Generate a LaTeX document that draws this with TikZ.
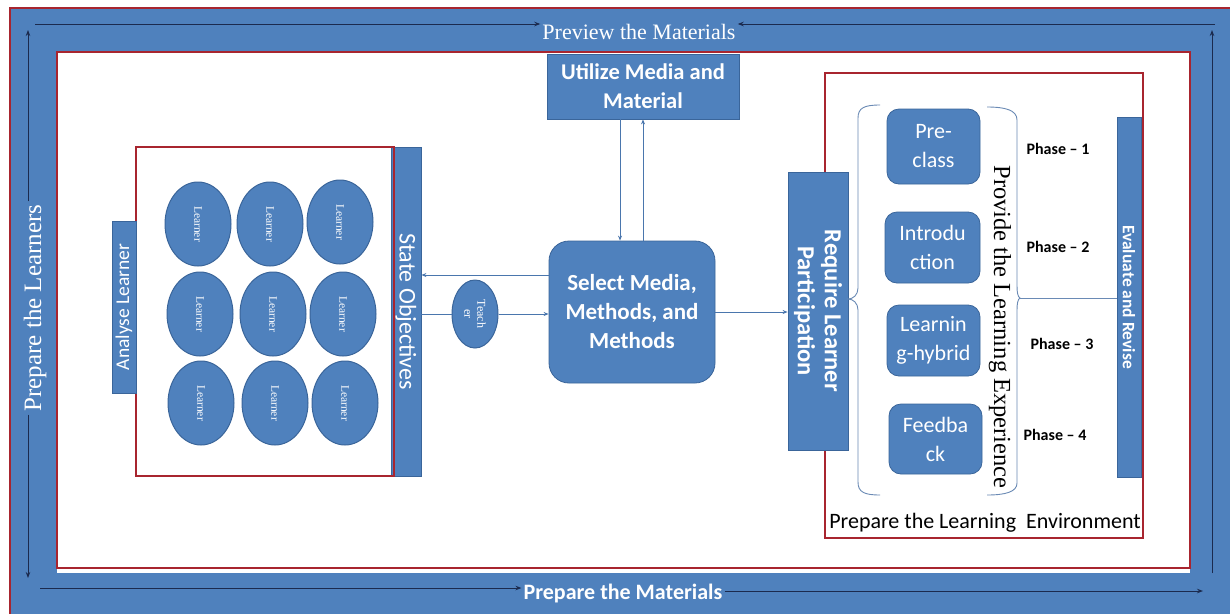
\documentclass[tikz,border=0pt]{standalone}
\usepackage{fontspec}
\setmainfont{Liberation Serif}
\setsansfont{Carlito}
\usetikzlibrary{arrows.meta,shapes.geometric}
\definecolor{ob}{HTML}{4F81BD}
\definecolor{obd}{HTML}{3A659A}
\definecolor{rd}{HTML}{A8252F}
\definecolor{nav}{HTML}{1B2A4E}
\definecolor{cn}{HTML}{4A76AD}
\definecolor{brc}{HTML}{6A8AB5}
\begin{document}
\begin{tikzpicture}[x=1pt,y=-1pt,
  bluebox/.style={fill=ob,draw=obd,line width=0.8pt,text=white,align=center,inner sep=0pt},
  outer/.style={draw=nav,line width=1pt,-{Stealth[length=6pt,width=4.5pt]}},
  conn/.style={draw=cn,line width=0.9pt},
  arr/.style={-{Stealth[length=5pt,width=4pt]}},
  learner/.style={ellipse,rotate=-90,fill=ob,draw=obd,line width=1pt,minimum width=84pt,minimum height=66pt,inner sep=0pt,text=white,font=\fontsize{11.5}{13}\selectfont},
  phasebox/.style={bluebox,rounded corners=12pt,minimum width=93pt,font=\sffamily\fontsize{22}{29}\selectfont},
  phaselbl/.style={font=\sffamily\bfseries\fontsize{16}{18}\selectfont,text=black,inner sep=1pt},
  bracestyle/.style={draw=brc,line width=0.9pt}
]
\useasboundingbox (0,0) rectangle (1230,614);
% outer frame
\fill[white] (0,0) rectangle (1230,614);
\fill[ob] (10,8) rectangle (1230,614);
\draw[rd,line width=1.3pt] (10,614) -- (10,8) -- (1230,8);
\fill[white] (57,52) rectangle (1190,573);
\draw[rd,line width=1.6pt] (57,52) rectangle (1190,568);

% outer labels and arrows
\node[text=white,font=\fontsize{22}{26}\selectfont,inner sep=2pt] (prev) at (639,32) {Preview the Materials};
\coordinate (tl) at (35,24);
\coordinate (tr) at (1215,24);
\draw[outer] (tl) -- (tl -| prev.west);
\draw[outer] (tr) -- (tr -| prev.east);

\node[text=white,rotate=90,font=\fontsize{25}{29}\selectfont,inner sep=3pt] (pl) at (35,308) {Prepare the Learners};
\coordinate (lt) at (28,30);
\coordinate (lb) at (28,578);
\draw[outer] (lt |- pl.east) -- (lt);
\draw[outer] (lb |- pl.west) -- (lb);

\coordinate (rbot) at (1212,573);
\coordinate (rtop) at (1212,30);
\draw[outer] (rbot) -- (rtop);

\node[text=white,font=\sffamily\bfseries\fontsize{22}{26}\selectfont,inner sep=2pt] (pm) at (623,593) {Prepare the Materials};
\coordinate (bl) at (40,588);
\coordinate (br) at (1203,591);
\draw[outer] (bl) -- (bl -| pm.west);
\draw[outer] (br -| pm.east) -- (br);

% left group
\node[bluebox,rotate=-90,minimum width=329pt,minimum height=30pt,font=\sffamily\fontsize{24}{28}\selectfont] (so) at (406,311.5) {State Objectives};
\draw[rd,line width=1.6pt] (136,147) rectangle (394,476);
\node[bluebox,rotate=90,minimum width=172pt,minimum height=24pt,font=\sffamily\fontsize{19.5}{22}\selectfont] (an) at (124,307) {Analyse Learner};
\foreach \x/\y [count=\i] in {198/224,270/224,340/222,200/314,273/314,343/314,201/403,275/403,345/403}
  \node[learner] (l\i) at (\x,\y) {Learner};

\node[ellipse,rotate=-90,fill=ob,draw=obd,line width=1pt,minimum width=68pt,minimum height=46pt,inner sep=0pt,text=white,align=center,font=\fontsize{12}{13}\selectfont] (teach) at (475,314) {Teach\\er};

% centre
\node[bluebox,minimum width=192pt,minimum height=65pt,font=\sffamily\bfseries\fontsize{22.5}{29}\selectfont] (util) at (643,86.5) {Utilize Media and\\Material};
\node[bluebox,rounded corners=20pt,minimum width=166pt,minimum height=142pt,font=\sffamily\bfseries\fontsize{23}{29}\selectfont] (sel) at (632,312) {Select Media,\\Methods, and\\Methods};

% right group
\draw[rd,line width=1.6pt] (825,73) rectangle (1143,538);
\node[bluebox,rotate=-90,minimum width=278pt,minimum height=60pt,font=\sffamily\bfseries\fontsize{24.5}{27}\selectfont] (req) at (818,311) {Require Learner\\Participation};
\node[phasebox,minimum height=75pt] (pre) at (933.5,146.5) {Pre-\\class};
\node[phasebox,minimum width=95pt,minimum height=71pt] (intro) at (932.5,247.5) {Introdu\\ction};
\node[phasebox,minimum height=71pt] (learn) at (933.5,340.5) {Learnin\\g-hybrid};
\node[phasebox,minimum height=70pt] (feed) at (935.5,439) {Feedba\\ck};
\node[rotate=-90,font=\fontsize{24.5}{28}\selectfont,inner sep=0pt] (pex) at (1000,327) {Provide the Learning Experience};
\node[bluebox,rotate=-90,minimum width=360pt,minimum height=24pt,font=\sffamily\bfseries\fontsize{17.5}{19}\selectfont] (ev) at (1129,297) {Evaluate and Revise};
\node[phaselbl] (ph1) at (1058,149) {Phase -- 1};
\node[phaselbl] (ph2) at (1058,247) {Phase -- 2};
\node[phaselbl] (ph3) at (1062,344) {Phase -- 3};
\node[phaselbl] (ph4) at (1055,435) {Phase -- 4};
\node[font=\sffamily\fontsize{22}{26}\selectfont,inner sep=0pt] (env) at (985,523) {Prepare the Learning\ \ Environment};

% braces
\draw[bracestyle] (880,105) .. controls (864,105) and (858,108) .. (858,118) -- (858,288)
  .. controls (858,295) and (853,299) .. (848,299) .. controls (853,299) and (858,303) .. (858,310)
  -- (858,482) .. controls (858,492) and (864,495) .. (880,495);
\draw[bracestyle] (987,107) .. controls (1005,107) and (1017,110) .. (1017,120) -- (1017,286)
  .. controls (1017,293) and (1018,297) .. (1020,298) coordinate (rbt)
  .. controls (1018,299) and (1017,303) .. (1017,310) -- (1017,483)
  .. controls (1017,492) and (1005,495) .. (987,495);
\draw[bracestyle] (rbt) -- (ev.south |- rbt);

% connectors
\draw[conn,arr] ([yshift=37pt]sel.west) coordinate (s1) -- (so.north |- s1);
\draw[conn] (teach.south -| so.north) -- (teach.south);
\draw[conn,arr] (teach.north) -- (teach.north -| sel.west);
\draw[conn,arr] (sel.east) -- (sel.east -| req.south);
\draw[conn,arr] ([xshift=-23pt]util.south) coordinate (u1) -- (u1 |- sel.north);
\draw[conn,arr] (util.south |- sel.north) -- (util.south);
\end{tikzpicture}
\end{document}
